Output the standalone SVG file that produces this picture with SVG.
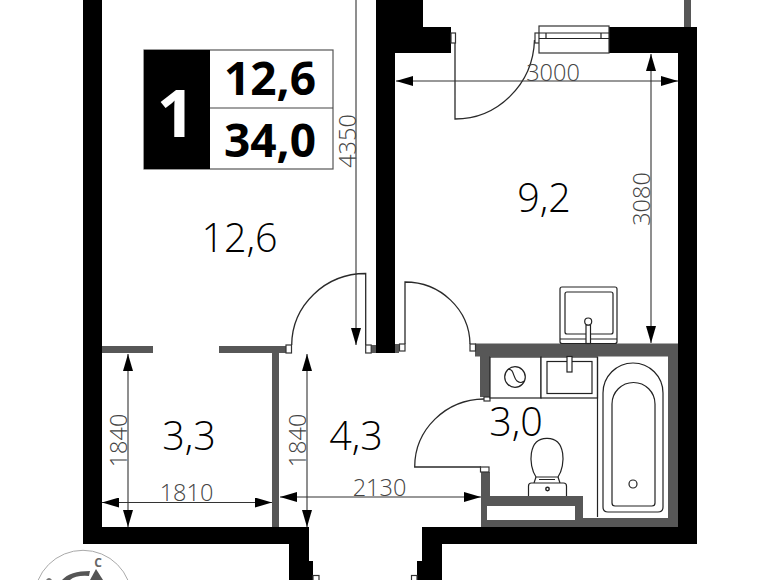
<svg xmlns="http://www.w3.org/2000/svg" width="780" height="580" viewBox="0 0 780 580">
<style>
.w{fill:#000}.g{fill:#575757}.o{fill:#fff;stroke:#333;stroke-width:1.2}
.l{fill:none;stroke:#2a2a2a;stroke-width:1.3}.f{fill:none;stroke:#222;stroke-width:1.2}
.d{stroke:#333;stroke-width:1.1;fill:none;marker-start:url(#a);marker-end:url(#a)}
.e{stroke:#333;stroke-width:1.1;fill:none;marker-end:url(#a)}
.t{font-family:"Open Sans","DejaVu Sans",sans-serif;fill:#000;font-size:39.500px;font-weight:300;text-anchor:middle}
.n{font-family:"Open Sans","DejaVu Sans",sans-serif;fill:#444;font-size:23.500px;font-weight:300;text-anchor:middle}
.b{font-family:"Open Sans","DejaVu Sans",sans-serif;fill:#000;font-size:46px;font-weight:700;text-anchor:middle}
</style>
<defs><marker id="a" viewBox="0 0 17 10" refX="17" refY="5" markerWidth="17" markerHeight="10" markerUnits="userSpaceOnUse" orient="auto-start-reverse"><path d="M0 0L17 5L0 10Z" fill="#000"/></marker></defs>
<g id="partitions">
<path class="g" d="M102 346H153V353H102ZM219 346H286V353H279V527H272V353H219Z"/>
<rect class="g" x="371" y="345" width="5" height="8"/><rect class="g" x="395" y="344" width="4" height="9"/>
<path class="g" d="M475 343.500H678V527H583V518H668V356.500H490V397H480V356.500H475Z"/>
<path class="g" d="M481 472H490V496H583V527H481ZM487 506V520H575V506Z" fill-rule="evenodd"/>
<rect class="g" x="684" y="0" width="7" height="27"/>
</g>
<g id="walls">
<path class="w" d="M83 0H102V527H309V561H313V580H289V544H83Z"/>
<path class="w" d="M376 0H423V27H451V53H395V353H376Z"/>
<path class="w" d="M609 27H697V544H442V580H417V561H422V527H678V53H609Z"/>
</g>
<g id="door-entry-room" class="l">
<path d="M455 33V119C497 119 533 85 534.500 40"/>
<rect class="o" x="451" y="33" width="4.500" height="10"/><rect class="o" x="535" y="33" width="4.500" height="10"/>
</g>
<g id="window">
<rect class="o" x="539" y="26" width="70" height="27"/>
<path class="f" d="M539 33H609M539 38.500H609M546 33V38.500M601 33V38.500"/>
</g>
<g id="door-left" class="l">
<path d="M291.700 345A74 72 0 0 1 365.700 273.500V345"/>
<rect class="o" x="286" y="345" width="5.500" height="8"/><rect class="o" x="365.700" y="345" width="5.500" height="8"/>
</g>
<g id="door-right" class="l">
<path d="M405 344V282A65 63 0 0 1 470 344"/>
<rect class="o" x="399.500" y="344" width="5.500" height="7"/><rect class="o" x="470" y="344" width="5.500" height="7"/>
</g>
<g id="door-bath" class="l">
<path d="M484 399A70 68 0 0 0 414.700 467H481"/>
<rect class="o" x="484" y="397" width="6" height="4"/><rect class="o" x="480.500" y="467" width="8.500" height="5"/>
</g>
<g id="door-entrance">
<rect class="o" x="313" y="575.500" width="6" height="7"/><rect class="o" x="411.500" y="575.500" width="5.500" height="7"/>
</g>
<g id="top-sink" class="f">
<rect x="560" y="287" width="57" height="56.500" rx="2" fill="#fff"/>
<rect x="565" y="292" width="48" height="42" rx="2"/>
<path d="M560 339H617"/>
<rect x="586" y="325" width="4.500" height="18.500" fill="#fff"/>
<circle cx="588.200" cy="321.500" r="3.500" fill="#fff"/>
</g>
<g id="washer" class="f">
<rect x="490" y="357" width="51" height="41" fill="#fff"/>
<circle cx="515" cy="377" r="10.300"/>
<path d="M508 369.500C514 368 513 378 517 381C519 382.500 522 383 524 381"/>
</g>
<g id="sink" class="f">
<rect x="541" y="357" width="56.500" height="41" fill="#fff"/>
<rect x="547" y="361.500" width="45" height="32"/>
<rect x="567" y="356.500" width="5" height="15.500" fill="#fff"/>
</g>
<g id="bath" class="f">
<path d="M597.500 357V517"/>
<path d="M603 393A30 30 0 0 1 663 393V507Q663 512 658 512H608Q603 512 603 507Z"/>
<path d="M612 404A21.500 21.500 0 0 1 655 404V503Q655 506 652 506H615Q612 506 612 503Z"/>
<circle cx="633" cy="484" r="4"/>
</g>
<g id="toilet" class="f">
<path d="M536 477C528 465 528 438 547 438.300C566 438 566 465 558 477Z"/>
<path d="M536 477L534 483M558 477L560 483M539 479.500H555"/>
<path d="M528.500 496V486Q528.500 483 531.500 483H563.500Q566.500 483 566.500 486V496" fill="#fff"/>
<circle cx="547.500" cy="489" r="1.700" stroke-width="1.500"/>
</g>
<g id="connectors">
<path class="d" d="M396 81H678"/>
<path class="d" d="M651 54V343"/>
<path class="e" d="M356 0V345"/>
<path class="d" d="M128 354V527"/>
<path class="d" d="M307 354V527"/>
<path class="d" d="M102 502.500H272"/>
<path class="d" d="M280 497H481"/>
</g>
<g id="dimensions">
<text class="n" x="553" y="81">3000</text>
<text class="n" transform="translate(650 199) rotate(-90)">3080</text>
<text class="n" transform="translate(356 141) rotate(-90)">4350</text>
<text class="n" transform="translate(127 440.500) rotate(-90)">1840</text>
<text class="n" transform="translate(306 440.500) rotate(-90)">1840</text>
<text class="n" x="186.500" y="501">1810</text>
<text class="n" x="379.500" y="496">2130</text>
</g>
<g id="summary">
<rect x="144" y="50" width="189" height="119" fill="#fff" stroke="#555" stroke-width="1.200"/>
<rect x="144" y="50" width="66" height="119" fill="#000"/>
<path d="M210 108H333" stroke="#444" stroke-width="1.200"/>
<text class="b" x="176" y="137" style="font-size:67px;fill:#fff">1</text>
<text class="b" x="270" y="94.500">12,6</text>
<text class="b" x="270" y="157">34,0</text>
</g>
<g id="rooms">
<text class="t" x="239.500" y="252">12,6</text>
<text class="t" x="544" y="212">9,2</text>
<text class="t" x="189" y="450">3,3</text>
<text class="t" x="356" y="450">4,3</text>
<text class="t" x="516" y="436">3,0</text>
</g>
<g id="compass">
<circle cx="83" cy="599" r="48.700" fill="none" stroke="#aaa" stroke-width="1"/>
<text x="98" y="567" font-family="Open Sans,DejaVu Sans,sans-serif" font-size="12" font-weight="700" fill="#666" text-anchor="middle">С</text>
<path d="M62 580Q70 571 90 571L89 576Q76 575 70 580Z" fill="#555"/>
<path d="M96 569L103 580H90Z" fill="#555"/>
<path d="M46 580Q49 576 52 580Z" fill="#777"/>
</g>
</svg>
